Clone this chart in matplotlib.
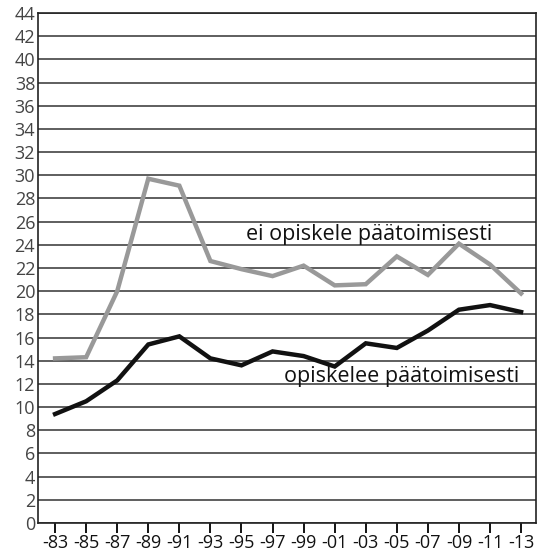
import matplotlib
matplotlib.use('Agg')
import matplotlib.pyplot as plt

years = ['-83', '-85', '-87', '-89', '-91', '-93', '-95', '-97',
         '-99', '-01', '-03', '-05', '-07', '-09', '-11', '-13']
ei_opiskele = [14.2, 14.3, 20.0, 29.7, 29.1, 22.6, 21.9, 21.3,
               22.2, 20.5, 20.6, 23.0, 21.4, 24.1, 22.3, 19.8]
opiskelee = [9.4, 10.5, 12.3, 15.4, 16.1, 14.2, 13.6, 14.8,
             14.4, 13.5, 15.5, 15.1, 16.6, 18.4, 18.8, 18.2]

plt.rcParams['font.family'] = ['Open Sans', 'DejaVu Sans']

fig = plt.figure(figsize=(5.39, 5.55), dpi=100)
ax = fig.add_axes([0.0705, 0.0577, 0.9239, 0.9189])

x = list(range(len(years)))
ax.plot(x, ei_opiskele, color='#999999', lw=3.2, solid_joinstyle='miter', zorder=3)
ax.plot(x, opiskelee, color='#111111', lw=3.2, solid_joinstyle='miter', zorder=3)

ax.set_xlim(-0.55, 15.48)
ax.set_ylim(0, 44)
ax.set_yticks(range(0, 45, 2))
ax.set_xticks(x)
ax.set_xticklabels(years)
ax.yaxis.grid(True, color='#333333', lw=1.1)
ax.set_axisbelow(True)
ax.tick_params(axis='y', length=0, labelsize=13, labelcolor='#444444', pad=2)
ax.tick_params(axis='x', length=7, width=1.3, direction='out', labelsize=13,
               labelcolor='#111111', pad=1)
for s in ax.spines.values():
    s.set_color('#222222')
    s.set_linewidth(1.2)

ax.text(10.12, 24.85, 'ei opiskele päätoimisesti', fontsize=15.5, color='#111111',
        ha='center', va='center')
ax.text(11.17, 12.6, 'opiskelee päätoimisesti', fontsize=15.5, color='#111111',
        ha='center', va='center')

fig.savefig('out.png', dpi=100)
